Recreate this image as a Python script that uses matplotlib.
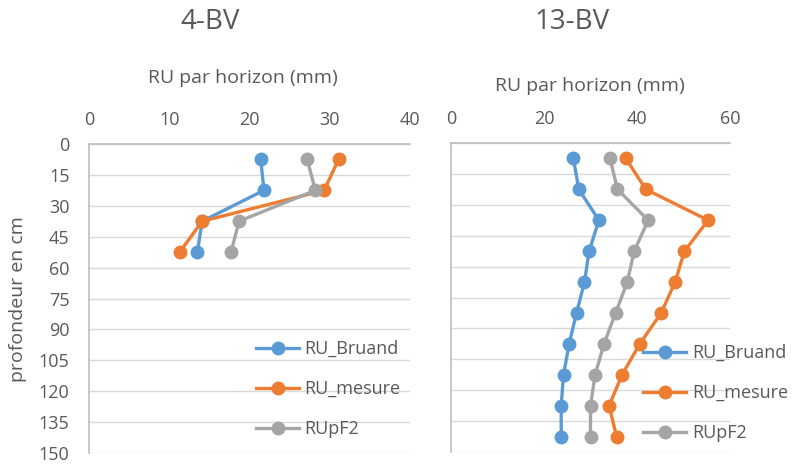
import matplotlib
matplotlib.use("Agg")
import matplotlib.pyplot as plt

plt.rcParams['font.family'] = ['Open Sans', 'DejaVu Sans']

# profondeur (milieu des horizons, cm)
prof_4bv = [7.5, 22.5, 37.5, 52.5]
bruand_4bv = [21.4, 21.8, 14.1, 13.5]
mesure_4bv = [31.1, 29.3, 14.1, 11.3]
pf2_4bv = [27.2, 28.2, 18.7, 17.7]

prof_13bv = [7.5, 22.5, 37.5, 52.5, 67.5, 82.5, 97.5, 112.5, 127.5, 142.5]
bruand_13bv = [26.3, 27.5, 31.8, 29.7, 28.7, 27.0, 25.4, 24.2, 23.7, 23.7]
mesure_13bv = [37.6, 41.9, 55.3, 50.2, 48.2, 45.2, 40.6, 36.8, 34.0, 35.6]
pf2_13bv = [34.2, 35.8, 42.4, 39.4, 37.9, 35.4, 32.9, 31.0, 30.0, 30.0]

y_ticks = list(range(0, 151, 15))
series = ["RU_Bruand", "RU_mesure", "RUpF2"]
colors = ["#5B9BD5", "#ED7D31", "#A5A5A5"]
txt = "#595959"

W, H = 793, 472
fig = plt.figure(figsize=(W / 100, H / 100), dpi=100)


def make_axes(x0, x1, y0, y1):
    return fig.add_axes([x0 / W, 1 - y1 / H, (x1 - x0) / W, (y1 - y0) / H])


def style(ax, xmax, xstep, show_y):
    ax.set_ylim(150, 0)
    ax.set_xlim(0, xmax)
    ax.set_yticks(y_ticks)
    ax.set_xticks(range(0, xmax + 1, xstep))
    ax.xaxis.tick_top()
    ax.tick_params(length=0, labelsize=13, labelcolor=txt, pad=11)
    ax.tick_params(axis='y', pad=14)
    if not show_y:
        ax.set_yticklabels([])
    ax.grid(axis='y', color="#D9D9D9", lw=1)
    ax.set_axisbelow(True)
    for s in ["right", "bottom"]:
        ax.spines[s].set_visible(False)
    for s in ["top", "left"]:
        ax.spines[s].set_color("#BFBFBF")
        ax.spines[s].set_linewidth(1.2)


ax1 = make_axes(89, 410, 144, 453)
ax2 = make_axes(451, 730, 143, 452)

for ax, prof, data in [(ax1, prof_4bv, [bruand_4bv, mesure_4bv, pf2_4bv]),
                       (ax2, prof_13bv, [bruand_13bv, mesure_13bv, pf2_13bv])]:
    for vals, c, name in zip(data, colors, series):
        ax.plot(vals, prof, color=c, lw=2.4, marker='o', markersize=9, label=name)

style(ax1, 40, 10, True)
style(ax2, 60, 20, False)

leg_kw = dict(frameon=False, fontsize=13, labelcolor=txt, handlelength=2.4,
              handletextpad=0.3, labelspacing=1.22, borderpad=0, borderaxespad=0)
ax1.legend(loc='upper left', bbox_to_anchor=(256 / W, 1 - 340 / H),
           bbox_transform=fig.transFigure, **leg_kw)
ax2.legend(loc='upper left', bbox_to_anchor=(643 / W, 1 - 344 / H),
           bbox_transform=fig.transFigure, **leg_kw)

fig.text(210 / W, 1 - 22 / H, "4-BV", fontsize=20, color=txt, ha='center', va='center')
fig.text(572 / W, 1 - 22 / H, "13-BV", fontsize=20, color=txt, ha='center', va='center')
fig.text(243 / W, 1 - 78 / H, "RU par horizon (mm)", fontsize=14, color=txt, ha='center', va='center')
fig.text(590 / W, 1 - 86 / H, "RU par horizon (mm)", fontsize=14, color=txt, ha='center', va='center')
fig.text(18 / W, 1 - 299 / H, "profondeur en cm", fontsize=14, color=txt, rotation=90,
         ha='center', va='center')

fig.savefig("out.png", dpi=100)
